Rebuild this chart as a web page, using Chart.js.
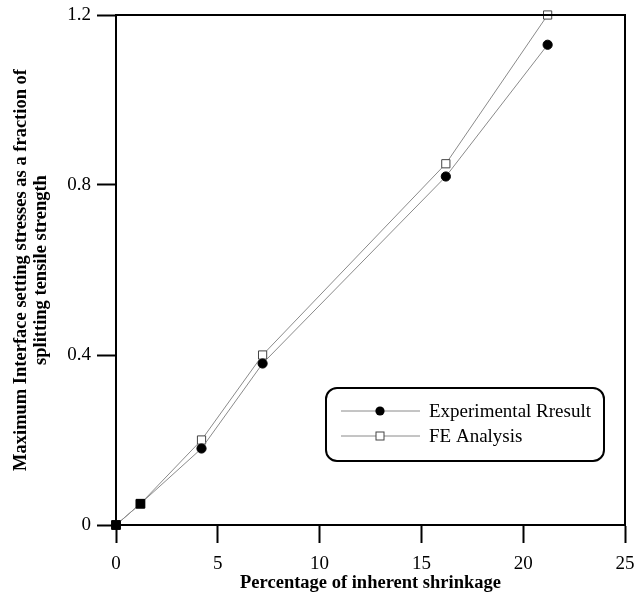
<!DOCTYPE html>
<html>
<head>
<meta charset="utf-8">
<script src="https://cdn.jsdelivr.net/npm/chart.js@4"></script>
<style>
  html, body { margin: 0; padding: 0; background: #fff; }
  #wrap { width: 634px; height: 596px; position: relative; }
</style>
</head>
<body>
<div id="wrap"><canvas id="c" width="634" height="596"></canvas></div>
<script>
const shrinkage = [0, 1.2, 4.2, 7.2, 16.2, 21.2];
const experimental = [0, 0.05, 0.18, 0.38, 0.82, 1.13];
const feAnalysis = [0, 0.05, 0.20, 0.40, 0.85, 1.20];
const seriesNames = ['Experimental Rresult', 'FE Analysis'];
const xTicks = [0, 5, 10, 15, 20, 25];
const yTicks = [0, 0.4, 0.8, 1.2];
const xTitle = 'Percentage of inherent shrinkage';
const yTitle = ['Maximum Interface setting stresses as a fraction of', 'splitting tensile strength'];

const SERIF = "'Liberation Serif', 'Times New Roman', serif";
const toPts = (xs, ys) => xs.map((x, i) => ({ x: x, y: ys[i] }));

// points where both series coincide appear as filled squares
const expStyles = experimental.map((v, i) => (v === feAnalysis[i] ? 'rect' : 'circle'));
const expRadius = experimental.map((v, i) => (v === feAnalysis[i] ? 6.2 : 4.6));

const frameAndLegend = {
  id: 'frameAndLegend',
  afterDatasetsDraw(chart) {
    const { ctx, chartArea: a } = chart;
    ctx.save();
    ctx.strokeStyle = '#000';
    ctx.lineWidth = 2;
    ctx.beginPath();
    ctx.moveTo(a.left, a.top);
    ctx.lineTo(a.right, a.top);
    ctx.lineTo(a.right, a.bottom);
    ctx.stroke();

    const bx = 326, by = 388, bw = 278, bh = 73, r = 11;
    ctx.beginPath();
    ctx.moveTo(bx + r, by);
    ctx.lineTo(bx + bw - r, by);
    ctx.arcTo(bx + bw, by, bx + bw, by + r, r);
    ctx.lineTo(bx + bw, by + bh - r);
    ctx.arcTo(bx + bw, by + bh, bx + bw - r, by + bh, r);
    ctx.lineTo(bx + r, by + bh);
    ctx.arcTo(bx, by + bh, bx, by + bh - r, r);
    ctx.lineTo(bx, by + r);
    ctx.arcTo(bx, by, bx + r, by, r);
    ctx.closePath();
    ctx.fillStyle = '#fff';
    ctx.fill();
    ctx.lineWidth = 2;
    ctx.strokeStyle = '#000';
    ctx.stroke();

    const rows = [411, 436];
    chart.data.datasets.forEach((ds, i) => {
      const y = rows[i];
      ctx.strokeStyle = '#8a8a8a';
      ctx.lineWidth = 1;
      ctx.beginPath();
      ctx.moveTo(341, y);
      ctx.lineTo(420, y);
      ctx.stroke();
      if (i === 0) {
        ctx.fillStyle = '#000';
        ctx.beginPath();
        ctx.arc(380, y, 4.6, 0, Math.PI * 2);
        ctx.fill();
      } else {
        ctx.fillStyle = '#fff';
        ctx.fillRect(376, y - 4, 8, 8);
        ctx.strokeStyle = '#444';
        ctx.lineWidth = 1;
        ctx.strokeRect(376, y - 4, 8, 8);
      }
      ctx.fillStyle = '#000';
      ctx.font = "19px " + SERIF;
      ctx.textBaseline = 'middle';
      ctx.textAlign = 'left';
      ctx.fillText(ds.label, 429, y + 1);
    });
    ctx.restore();
  }
};

new Chart(document.getElementById('c'), {
  type: 'scatter',
  data: {
    datasets: [
      {
        label: seriesNames[0],
        data: toPts(shrinkage, experimental),
        showLine: true,
        clip: false,
        borderColor: '#8a8a8a',
        borderWidth: 1,
        pointStyle: expStyles,
        pointRadius: expRadius,
        pointBackgroundColor: '#000',
        pointBorderColor: '#000',
        pointBorderWidth: 1
      },
      {
        label: seriesNames[1],
        data: toPts(shrinkage, feAnalysis),
        showLine: true,
        clip: false,
        borderColor: '#8a8a8a',
        borderWidth: 1,
        pointStyle: 'rect',
        pointRadius: 5.8,
        pointBackgroundColor: '#fff',
        pointBorderColor: '#444',
        pointBorderWidth: 1
      }
    ]
  },
  options: {
    responsive: false,
    animation: false,
    layout: { padding: { left: 0, right: 9, top: 15, bottom: 0 } },
    plugins: { legend: { display: false }, tooltip: { enabled: false } },
    scales: {
      x: {
        type: 'linear',
        min: 0,
        max: 25,
        afterBuildTicks: (s) => { s.ticks = xTicks.map(v => ({ value: v })); },
        afterFit: (s) => { s.height = 71; s.paddingLeft = 0; s.paddingRight = 0; },
        grid: { drawOnChartArea: false, tickLength: 18, tickWidth: 2, tickColor: '#000' },
        border: { color: '#000', width: 2 },
        ticks: { color: '#000', font: { family: SERIF, size: 19 }, padding: 10, maxRotation: 0 },
        title: {
          display: true,
          text: xTitle,
          color: '#000',
          font: { family: SERIF, size: 18.5, weight: 'bold', lineHeight: 1.2 },
          padding: { top: 0, bottom: 2 }
        }
      },
      y: {
        type: 'linear',
        min: 0,
        max: 1.2,
        afterBuildTicks: (s) => { s.ticks = yTicks.map(v => ({ value: v })); },
        afterFit: (s) => { s.width = 116; s.paddingTop = 0; s.paddingBottom = 0; },
        grid: { drawOnChartArea: false, tickLength: 19, tickWidth: 2, tickColor: '#000' },
        border: { color: '#000', width: 2 },
        ticks: {
          color: '#000',
          font: { family: SERIF, size: 19 },
          padding: 6,
          callback: (v) => (v === 0 ? '0' : v.toFixed(1))
        },
        title: {
          display: true,
          text: yTitle,
          color: '#000',
          font: { family: SERIF, size: 18.5, weight: 'bold', lineHeight: 1.1 },
          padding: { top: 11, bottom: 0 }
        }
      }
    }
  },
  plugins: [frameAndLegend]
});
</script>
</body>
</html>
